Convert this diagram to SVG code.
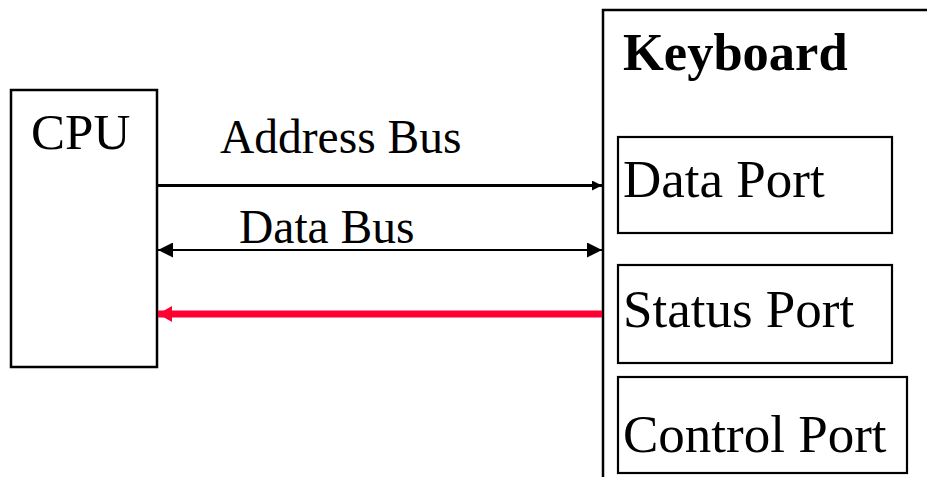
<svg xmlns="http://www.w3.org/2000/svg" width="927" height="477" viewBox="0 0 927 477">
  <style>
    .box { fill: #ffffff; stroke: #000000; stroke-width: 2.5; }
    .port { fill: #ffffff; stroke: #000000; stroke-width: 2.2; }
    .edge { fill: none; stroke: #000000; stroke-width: 2.5; }
    .lbl { font-family: "Liberation Serif", "Times New Roman", serif; fill: #000000; }
    .bold { font-weight: bold; }
  </style>
  <defs>
    <marker id="headSmall" markerUnits="userSpaceOnUse" markerWidth="10" markerHeight="10" refX="10" refY="5" orient="auto-start-reverse">
      <path d="M0,0 L10,5 L0,10 Z" fill="#000000"/>
    </marker>
    <marker id="headData" markerUnits="userSpaceOnUse" markerWidth="15" markerHeight="15" refX="15" refY="7.5" orient="auto-start-reverse">
      <path d="M0,0 L15,7.5 L0,15 Z" fill="#000000"/>
    </marker>
    <marker id="headRed" markerUnits="userSpaceOnUse" markerWidth="14" markerHeight="16" refX="14" refY="8" orient="auto-start-reverse">
      <path d="M0,0 L14,8 L0,16 Z" fill="#ff0033"/>
    </marker>
  </defs>

  <rect width="927" height="477" fill="#ffffff"/>

  <!-- processor -->
  <g id="cpu">
    <rect class="box" x="11" y="90" width="146" height="277"/>
    <text class="lbl" x="31" y="149" font-size="51">CPU</text>
  </g>

  <!-- keyboard controller (runs off the right and bottom edges) -->
  <g id="keyboard">
    <path class="edge" d="M603,480 L603,10 L930,10"/>
    <text class="lbl bold" x="623" y="70" font-size="52.5">Keyboard</text>
  </g>

  <g id="data-port">
    <rect class="port" x="618" y="137" width="274" height="96"/>
    <text class="lbl" x="623" y="197" font-size="53">Data Port</text>
  </g>

  <g id="status-port">
    <rect class="port" x="618" y="265" width="274" height="98"/>
    <text class="lbl" x="623" y="327" font-size="53">Status Port</text>
  </g>

  <g id="control-port">
    <rect class="port" x="618" y="377" width="289" height="96"/>
    <text class="lbl" x="623" y="452" font-size="53">Control Port</text>
  </g>

  <!-- buses between CPU and keyboard -->
  <g id="connectors">
    <line x1="157" y1="185.5" x2="602" y2="185.5" stroke="#000000" stroke-width="3" marker-end="url(#headSmall)"/>
    <text class="lbl" x="220" y="153" font-size="47.5">Address Bus</text>

    <line x1="158" y1="250" x2="602" y2="250" stroke="#000000" stroke-width="2" marker-start="url(#headData)" marker-end="url(#headData)"/>
    <text class="lbl" x="239" y="243" font-size="47.5">Data Bus</text>

    <line x1="158" y1="314" x2="602" y2="314" stroke="#ff0033" stroke-width="7" marker-start="url(#headRed)"/>
  </g>
</svg>
